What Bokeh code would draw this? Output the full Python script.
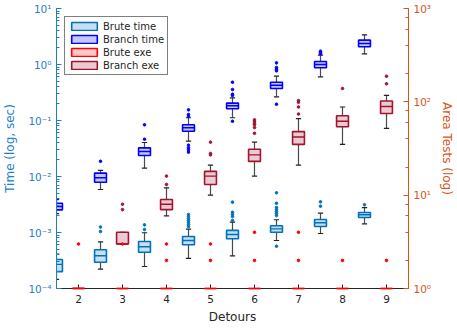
from bokeh.plotting import figure
from bokeh.models import (Range1d, LogAxis, LogScale, FixedTicker, CustomJSTickFormatter,
                          Legend, LegendItem, ColumnDataSource)
from bokeh.embed import file_html
from bokeh.resources import INLINE

detours = [2, 3, 4, 5, 6, 7, 8, 9]

# ---- Brute time (seconds) ----
brute_time_lo  = [1.45e-4, 2.21e-4, 2.47e-4, 3.44e-4, 3.84e-4, 7.19e-4, 9.59e-4, 1.43e-3]
brute_time_q1  = [2.0e-4, 2.95e-4, 4.45e-4, 6.03e-4, 7.71e-4, 1.01e-3, 1.28e-3, 1.85e-3]
brute_time_med = [2.7e-4, 3.84e-4, 5.56e-4, 7.19e-4, 9.20e-4, 1.16e-3, 1.49e-3, 2.07e-3]
brute_time_q3  = [3.3e-4, 4.91e-4, 6.90e-4, 8.49e-4, 1.09e-3, 1.32e-3, 1.71e-3, 2.28e-3]
brute_time_hi  = [4.1e-4, 6.82e-4, 9.89e-4, 1.15e-3, 1.53e-3, 1.69e-3, 2.21e-3, 2.79e-3]
brute_time_out = [[], [1.25e-3, 1.04e-3], [1.37e-3, 1.13e-3],
                  [2.09e-3, 1.93e-3, 1.78e-3, 1.64e-3, 1.51e-3, 1.39e-3, 1.28e-3],
                  [3.48e-3, 2.30e-3, 2.09e-3, 1.93e-3, 1.64e-3],
                  [5.12e-3, 3.33e-3, 2.79e-3, 2.58e-3, 2.37e-3, 2.18e-3, 2.01e-3, 5.69e-4],
                  [3.53e-3, 2.95e-3], [3.13e-3]]

# ---- Branch time (seconds) ----
branch_time_lo  = [2.18e-3, 5.86e-3, 1.41e-2, 4.27e-2, 0.112, 0.265, 0.603, 1.55]
branch_time_q1  = [2.54e-3, 7.91e-3, 2.37e-2, 6.44e-2, 0.162, 0.372, 0.873, 2.07]
branch_time_med = [2.91e-3, 9.48e-3, 2.79e-2, 7.41e-2, 0.183, 0.427, 1.0, 2.37]
branch_time_q3  = [3.33e-3, 1.15e-2, 3.25e-2, 8.38e-2, 0.204, 0.483, 1.13, 2.72]
branch_time_hi  = [3.88e-3, 1.29e-2, 4.05e-2, 0.112, 0.254, 0.618, 1.47, 3.39]
branch_time_out = [[], [1.87e-2], [8.38e-2, 4.63e-2],
                   [0.155, 0.128, 0.119, 3.62e-2, 3.25e-2, 3.0e-2, 2.72e-2],
                   [0.483, 0.358, 0.295, 0.279, 9.7e-2],
                   [1.07, 0.883, 0.824, 0.771, 0.195],
                   [1.73, 1.64, 1.55], []]

# ---- Brute exe (area tests) ----
brute_exe_lo  = [1, 1, 1, 1, 1, 1, 1, 1]
brute_exe_q1  = [1, 1, 1, 1, 1, 1, 1, 1]
brute_exe_med = [1, 1, 1, 1, 1, 1, 1, 1]
brute_exe_q3  = [1, 1, 1, 1, 1, 1, 1, 1]
brute_exe_hi  = [1, 1, 1, 1, 1, 1, 1, 1]
brute_exe_out = [[3], [3], [3, 2], [3, 2], [4, 2], [4, 2], [2], [2]]

# ---- Branch exe (area tests) ----
branch_exe_lo  = [1, 3, 6, 10, 16, 21, 35, 52]
branch_exe_q1  = [1, 3, 7, 13, 23, 35, 54, 75]
branch_exe_med = [1, 3, 8, 16, 27, 42, 62, 89]
branch_exe_q3  = [1, 4, 9, 18, 31, 48, 71, 102]
branch_exe_hi  = [1, 4, 12, 21, 37, 66, 88, 117]
branch_exe_out = [[], [7, 8], [13, 16], [27, 28, 37], [46, 53, 57, 59, 62, 64],
                  [74, 88, 99, 103], [139], [156, 188]]

FONT = "DejaVu Sans"
BLUE_AX = "#1f7fc4"
ORANGE_AX = "#D95319"
DARK = "#262626"

p = figure(width=457, height=329, output_backend="svg", toolbar_location=None,
           x_range=Range1d(1.5, 9.5), y_range=Range1d(1e-4, 10), y_axis_type="log",
           min_border_left=56, min_border_right=47, min_border_top=8, min_border_bottom=41)
p.extra_y_ranges = {"right": Range1d(1, 1000)}
p.extra_y_scales = {"right": LogScale()}
p.outline_line_color = None
p.grid.visible = False
p.background_fill_color = "white"

sup_fmt = CustomJSTickFormatter(code="""
const e = Math.round(Math.log10(tick));
const sup = {"-":"\u207B","0":"\u2070","1":"\u00B9","2":"\u00B2","3":"\u00B3","4":"\u2074","5":"\u2075","6":"\u2076","7":"\u2077","8":"\u2078","9":"\u2079"};
return "10" + String(e).split("").map(c => sup[c]).join("");
""")

# left axis
ly = p.yaxis[0]
ly.formatter = sup_fmt
ly.axis_label = "Time (log, sec)"
for attr in ("axis_line_color", "major_tick_line_color", "minor_tick_line_color",
             "major_label_text_color", "axis_label_text_color"):
    setattr(ly, attr, BLUE_AX)
ly.major_tick_in = 5; ly.major_tick_out = 0
ly.minor_tick_in = 3; ly.minor_tick_out = 0
ly.major_label_standoff = 5
ly.axis_label_standoff = 8
ly.major_label_text_font = FONT; ly.major_label_text_font_size = "10.5px"
ly.axis_label_text_font = FONT; ly.axis_label_text_font_size = "12px"
ly.axis_label_text_font_style = "normal"

# right axis
ry = LogAxis(y_range_name="right", formatter=sup_fmt, axis_label="Area Tests (log)")
for attr in ("axis_line_color", "major_tick_line_color", "minor_tick_line_color",
             "major_label_text_color", "axis_label_text_color"):
    setattr(ry, attr, ORANGE_AX)
ry.major_tick_in = 5; ry.major_tick_out = 0
ry.minor_tick_in = 3; ry.minor_tick_out = 0
ry.major_label_standoff = 5
ry.axis_label_standoff = 6
ry.major_label_text_font = FONT; ry.major_label_text_font_size = "10.5px"
ry.axis_label_text_font = FONT; ry.axis_label_text_font_size = "12px"
ry.axis_label_text_font_style = "normal"
p.add_layout(ry, "right")

# bottom axis
bx = p.xaxis[0]
bx.ticker = FixedTicker(ticks=detours)
bx.axis_label = "Detours"
bx.axis_line_color = DARK; bx.major_tick_line_color = DARK
bx.minor_tick_line_color = None
bx.major_tick_in = 4; bx.major_tick_out = 0
bx.major_label_standoff = 6
bx.major_label_text_color = DARK; bx.axis_label_text_color = DARK
bx.major_label_text_font = FONT; bx.major_label_text_font_size = "10.5px"
bx.axis_label_text_font = FONT; bx.axis_label_text_font_size = "12px"
bx.axis_label_text_font_style = "normal"
bx.axis_label_standoff = 4

BW = 0.27
CW = 0.12
WHISK = "#4a4a4a"


def draw(offset, lo, q1, med, q3, hi, outs, color, range_name="default", level="glyph"):
    pos = [d + offset for d in detours]
    src = ColumnDataSource(dict(x=pos, lo=lo, q1=q1, med=med, q3=q3, hi=hi,
                                l=[x - BW / 2 for x in pos], r=[x + BW / 2 for x in pos],
                                cl=[x - CW / 2 for x in pos], cr=[x + CW / 2 for x in pos]))
    kw = dict(source=src, y_range_name=range_name)
    p.segment("x", "q3", "x", "hi", line_color=WHISK, line_width=1.2, **kw)
    p.segment("x", "q1", "x", "lo", line_color=WHISK, line_width=1.2, **kw)
    p.segment("cl", "hi", "cr", "hi", line_color="#222222", line_width=1.2, **kw)
    p.segment("cl", "lo", "cr", "lo", line_color="#222222", line_width=1.2, **kw)
    box = p.quad(left="l", right="r", bottom="q1", top="q3", fill_color=color, fill_alpha=0.22,
                 line_color=color, line_width=1.6, level=level, **kw)
    p.segment("l", "med", "r", "med", line_color=color, line_width=1.4, level=level, **kw)
    ox, oy = [], []
    for x, o in zip(pos, outs):
        ox += [x] * len(o)
        oy += o
    p.scatter(ox, oy, size=2.6, color=color, marker="circle", y_range_name=range_name)
    return box


r_bt = draw(-0.5, brute_time_lo, brute_time_q1, brute_time_med, brute_time_q3, brute_time_hi,
            brute_time_out, "#0072BD")
r_bbt = draw(-0.5, branch_time_lo, branch_time_q1, branch_time_med, branch_time_q3, branch_time_hi,
             branch_time_out, "#0000FF")
r_bbe = draw(0, branch_exe_lo, branch_exe_q1, branch_exe_med, branch_exe_q3, branch_exe_hi,
             branch_exe_out, "#A2142F", "right")
r_be = draw(0, brute_exe_lo, brute_exe_q1, brute_exe_med, brute_exe_q3, brute_exe_hi,
            brute_exe_out, "#FF0000", "right", level="overlay")

legend = Legend(items=[LegendItem(label="Brute time", renderers=[r_bt]),
                       LegendItem(label="Branch time", renderers=[r_bbt]),
                       LegendItem(label="Brute exe", renderers=[r_be]),
                       LegendItem(label="Branch exe", renderers=[r_bbe])],
                location="top_left", margin=8, padding=3, spacing=1,
                glyph_width=32, glyph_height=10, label_height=12, label_standoff=3,
                label_text_font=FONT, label_text_font_size="10px", label_text_color=DARK,
                border_line_color="black", border_line_width=1, background_fill_alpha=1)
p.add_layout(legend)

open("out.html", "w").write(file_html(p, INLINE))
